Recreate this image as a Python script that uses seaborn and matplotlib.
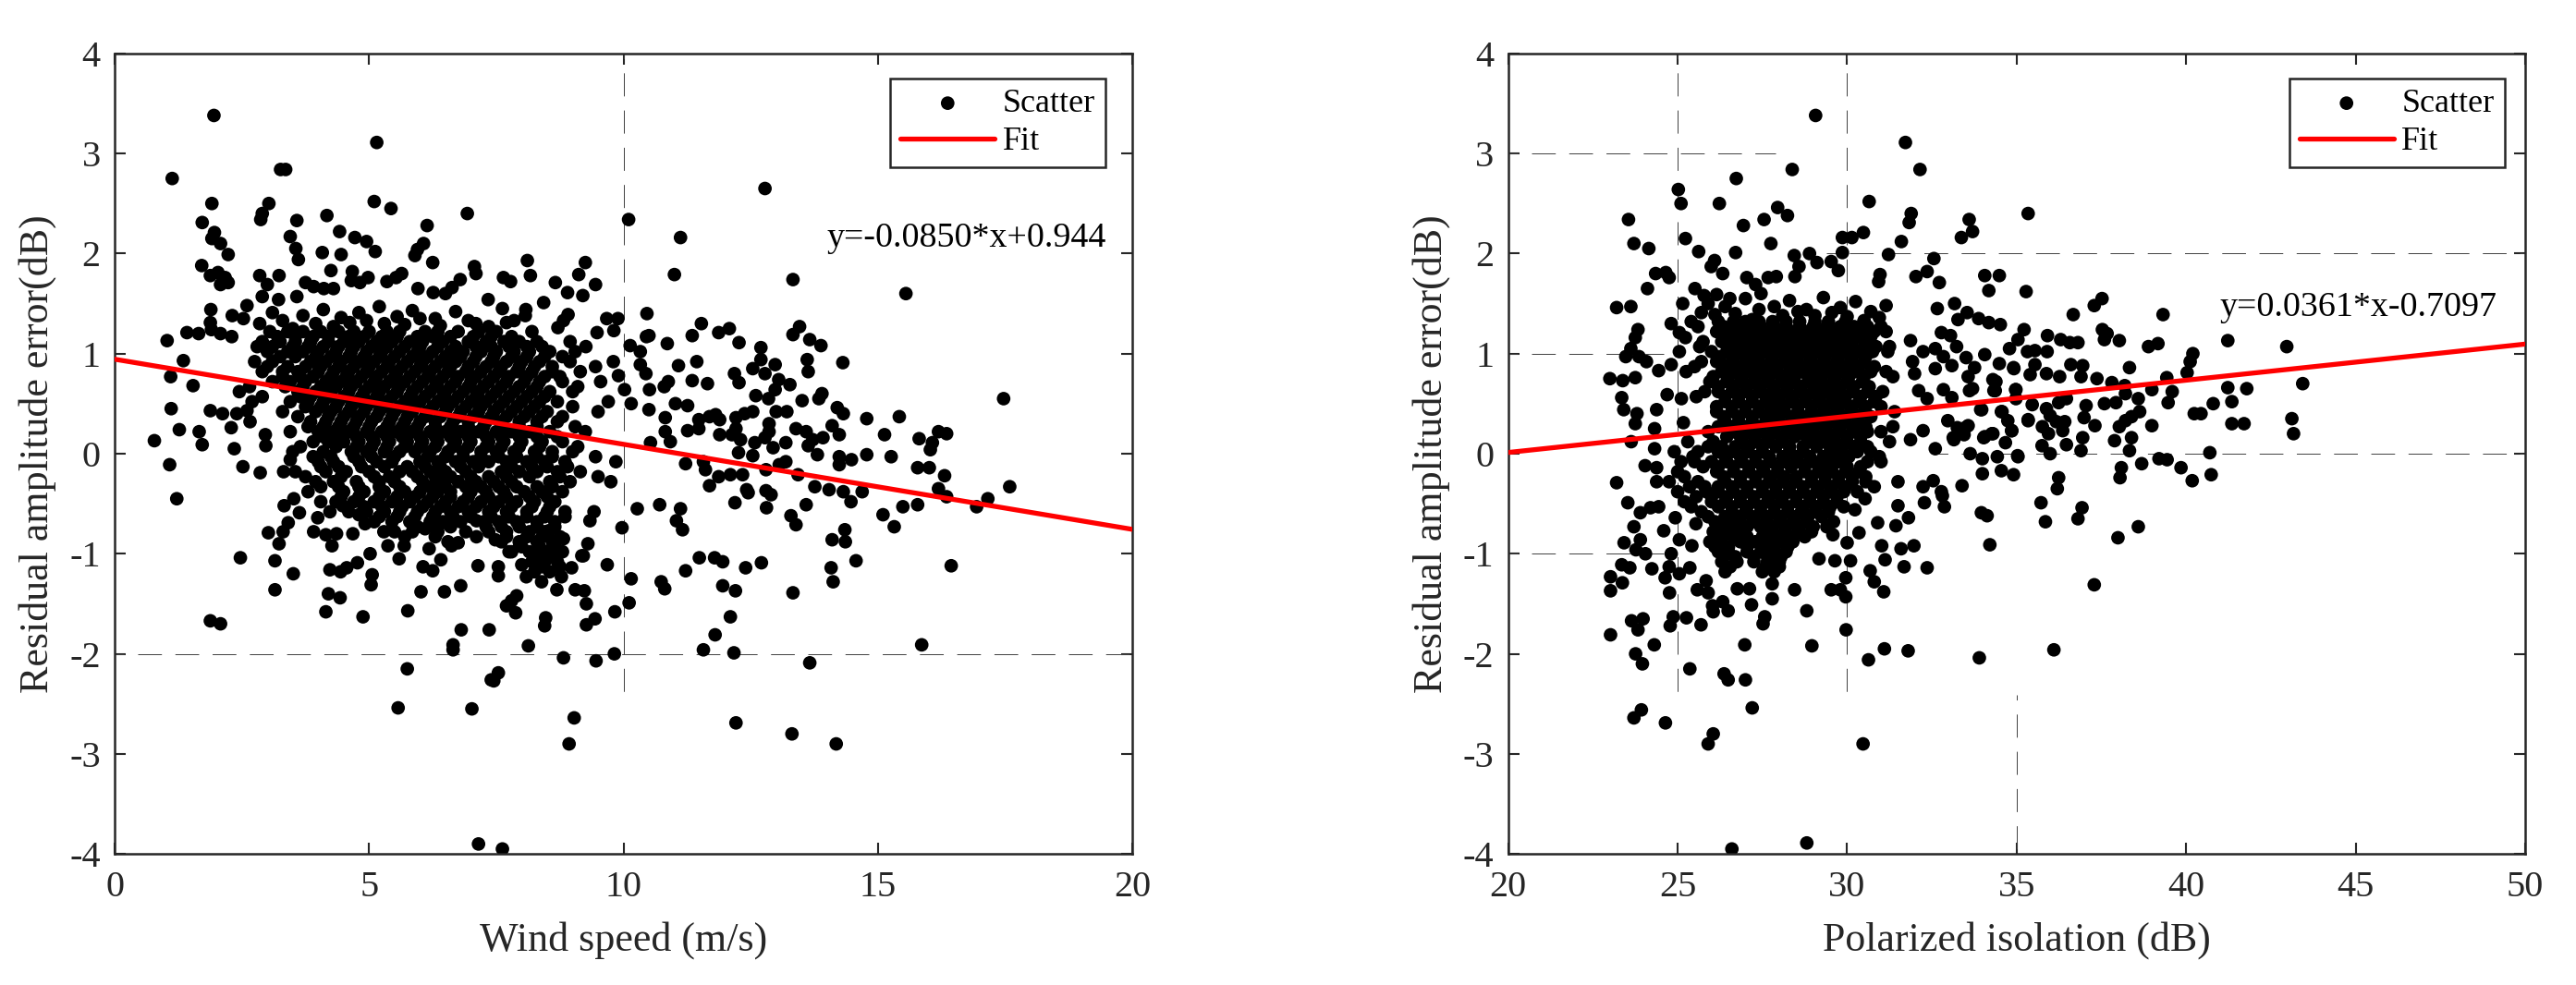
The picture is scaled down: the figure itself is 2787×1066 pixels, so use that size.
import matplotlib
matplotlib.use("Agg")
import matplotlib.pyplot as plt
import seaborn as sns

# ---- wind-speed panel: individually readable points (wind speed, residual)
wind_upper = [(1.95,3.38),(5.15,3.11),(1.13,2.75),(3.26,2.84),(3.36,2.84),(1.91,2.50),(3.03,2.50),(1.72,2.31),(2.90,2.40),(2.87,2.34),(3.58,2.33),(4.17,2.38),(5.10,2.52),(5.43,2.45),(6.93,2.40),(6.14,2.28),(10.1,2.34),(4.42,2.22),(4.72,2.16),(4.95,2.12),(5.12,2.02),(1.96,2.21),(1.91,2.15),(2.08,2.10),(2.23,1.99),(3.45,2.17),(3.56,2.05),(3.61,1.94),(4.08,2.01),(4.45,1.99),(6.07,2.10),(5.95,2.04),(5.9,1.98),(6.25,1.91),(1.71,1.88),(1.88,1.78),(2.03,1.81),(2.08,1.69),(2.23,1.71),(2.17,1.76),(2.85,1.78),(3.23,1.78),(3.0,1.69),(4.25,1.83),(4.67,1.82),(4.65,1.73),(4.98,1.76),(4.82,1.71),(5.35,1.72),(5.64,1.80),(5.53,1.76),(7.07,1.87),(7.10,1.80),(8.11,1.93),(8.17,1.78),(7.64,1.76),(7.78,1.72),(9.25,1.91),(9.12,1.79),(9.45,1.69),(8.66,1.71),(8.9,1.61),(9.2,1.58),(6.79,1.74),(6.63,1.66),(6.5,1.60),(5.96,1.65),(6.26,1.61),(3.75,1.71),(3.91,1.67),(4.11,1.65),(4.3,1.65),(2.9,1.57),(3.22,1.54),(3.58,1.57),(2.6,1.48),(1.89,1.44),(2.31,1.38),(2.53,1.35),(7.34,1.54),(7.62,1.45),(8.08,1.44),(8.07,1.38),(7.85,1.33),(8.43,1.51),(8.91,1.39),(8.71,1.26),(8.82,1.33),(9.67,1.35),(9.89,1.35),(9.81,1.23),(9.48,1.21),(9.26,1.07),(10.13,1.08),(10.33,1.02),(10.46,1.40),(10.45,1.17)]
wind_top = [(3.1,1.41),(3.7,1.38),(4.1,1.44),(4.45,1.36),(4.8,1.41),(5.2,1.47),(5.55,1.37),(5.85,1.43),(6.3,1.35),(6.7,1.42),(7.1,1.30),(3.3,1.33),(3.95,1.30),(4.3,1.27),(4.62,1.31),(4.95,1.33),(5.3,1.30),(5.7,1.29),(6.0,1.35),(6.4,1.28),(6.95,1.33),(7.35,1.27),(7.7,1.31),(2.85,1.30),(3.5,1.25)]
wind_left = [(1.03,1.13),(1.42,1.21),(1.65,1.20),(1.88,1.31),(1.9,1.24),(2.08,1.20),(2.3,1.17),(1.35,.93),(1.1,.77),(1.54,.68),(1.11,.45),(1.88,.43),(2.12,.40),(2.6,.43),(2.4,.40),(2.66,.32),(1.27,.24),(1.66,.22),(1.72,.09),(2.29,.26),(2.35,.05),(2.96,.19),(2.97,.08),(.78,.13),(1.08,-.11),(2.52,-.13),(2.86,-.19),(3.32,-.18),(3.45,-.06)]
wind_right = [(12.78,2.65),(11.12,2.16),(11.0,1.79),(13.33,1.74),(15.55,1.60),(10.5,1.18),(10.86,1.10),(11.35,1.18),(11.53,1.30),(11.87,1.21),(12.08,1.25),(12.27,1.11),(12.7,1.06),(12.7,.94),(12.54,.85),(12.78,.80),(12.98,.89),(13.33,1.19),(13.46,1.27),(13.66,1.14),(13.88,1.08),(13.61,.94),(13.63,.82),(14.31,.91),(17.47,.55),(17.59,-.33),(11.44,.92),(11.08,.88),(10.33,.89),(10.44,.80),(10.51,.64),(10.88,.72),(10.8,.67),(11.35,.73),(11.65,.70),(12.18,.80),(12.27,.71),(10.02,.64),(10.15,.50),(9.9,.78),(10.5,.44),(11.02,.50),(11.26,.48),(13.05,.74),(13.27,.69),(12.98,.64),(12.6,.58),(12.85,.55),(13.51,.53),(13.9,.60),(13.84,.55),(14.2,.46),(14.32,.40),(14.78,.35),(15.42,.37),(15.13,.19),(15.81,.15),(16.19,.22),(16.35,.20),(16.07,.11),(16.03,.04),(15.78,-.14),(16.01,-.14),(16.31,-.22),(14.78,-.01),(15.26,-.03),(14.48,-.06),(14.24,-.03),(14.24,-.11),(13.81,-.01),(13.63,.08),(14.24,.19),(14.1,.28),(13.92,.16),(13.72,.14),(13.39,.25),(13.59,.22),(13.0,.42),(13.21,.42),(12.86,.30),(12.86,.22),(12.54,.42),(12.38,.40),(12.21,.36),(12.21,.25),(12.13,.19),(11.89,.19),(12.3,.14),(12.26,.01),(12.54,-.02),(11.81,.39),(11.69,.37),(11.48,.34),(11.48,.25),(11.26,.23),(11.89,.34),(10.82,.36),(10.82,.22),(10.92,.12),(10.53,.11),(12.58,.11),(12.78,.16),(12.94,.06),(13.19,.11),(13.19,-.08),(13.06,-.11),(11.22,-.10),(11.57,-.08),(11.61,-.16),(11.87,-.23),(12.1,-.21),(12.34,-.21),(12.8,-.16),(13.43,-.21),(11.69,-.32),(12.42,-.36),(12.8,-.37),(13.76,-.33),(14.04,-.36),(14.32,-.38),(14.69,-.38),(16.19,-.35),(10.27,-.55),(10.71,-.51),(11.12,-.55),(11.04,-.67),(11.16,-.76),(9.97,-.74),(12.19,-.49),(12.81,-.54),(13.29,-.62),(13.39,-.71),(13.59,-.51),(12.45,-.39),(12.9,-.41),(14.47,-.48),(14.35,-.76),(14.1,-.86),(14.36,-.88),(15.1,-.61),(15.49,-.53),(15.78,-.51),(15.32,-.73),(16.94,-.53),(17.16,-.45),(16.35,-.43),(9.68,-1.11),(10.15,-1.25),(10.11,-1.49),(9.83,-1.58),(9.44,-1.65),(9.27,-1.71),(9.27,-1.50),(9.05,-1.36),(9.23,-1.37),(9.3,-.90),(9.21,-1.02),(11.22,-1.17),(11.49,-1.04),(11.79,-1.04),(11.95,-1.08),(12.4,-1.14),(12.71,-1.09),(14.08,-1.14),(14.57,-1.07),(16.44,-1.12),(14.12,-1.28),(10.74,-1.28),(10.81,-1.35),(11.95,-1.32),(12.2,-1.37),(13.33,-1.39),(12.1,-1.63),(11.8,-1.81),(11.57,-1.96),(12.17,-1.99),(15.86,-1.91),(13.66,-2.09),(9.82,-2.0),(9.46,-2.07),(8.82,-2.04),(12.21,-2.69),(13.31,-2.8),(14.18,-2.9),(9.03,-2.64),(8.93,-2.9)]
wind_lower = [(1.22,-.45),(2.47,-1.04),(3.15,-1.07),(3.02,-.79),(3.23,-.90),(3.31,-.78),(3.41,-.69),(3.33,-.52),(3.63,-.59),(3.52,-.45),(3.51,-1.20),(3.15,-1.36),(1.88,-1.67),(2.08,-1.70),(4.15,-1.58),(4.2,-1.40),(4.43,-1.44),(4.23,-1.16),(4.44,-1.18),(4.56,-1.14),(4.77,-1.09),(5.02,-1.0),(4.88,-1.63),(5.06,-1.21),(5.04,-1.31),(5.37,-.92),(5.59,-1.05),(5.69,-.92),(6.02,-1.38),(5.76,-1.57),(6.48,-1.38),(6.8,-1.32),(6.06,-1.13),(6.25,-1.17),(6.41,-1.06),(6.18,-.95),(7.14,-1.12),(7.54,-1.13),(7.54,-1.22),(6.81,-1.76),(7.36,-1.76),(6.65,-1.91),(6.65,-1.96),(8.13,-1.92),(7.7,-1.52),(7.9,-1.42),(7.88,-1.59),(7.8,-1.47),(8.47,-1.64),(8.45,-1.72),(5.75,-2.15),(7.54,-2.19),(7.4,-2.26),(7.45,-2.27),(5.57,-2.54),(7.02,-2.55),(7.15,-3.90),(7.62,-3.95),(3.99,-.64),(4.23,-.58),(4.48,-.52),(3.91,-.78),(4.15,-.81),(4.36,-.80),(4.27,-.92),(4.68,-.80),(4.8,-.61),(4.92,-.70),(5.29,-.78),(6.55,-.70),(6.62,-.92),(6.75,-.89),(7.11,-.83),(7.11,-.67),(6.1,-.75),(7.48,-.86),(7.8,-.98),(7.96,-.92),(8.53,-.77),(8.82,-.85),(9.18,-1.02),(8.98,-1.14),(8.78,-1.23),(8.39,-1.28),(8.09,-1.23),(8.0,-1.11),(8.69,-1.36),(9.34,-.67),(9.42,-.58)]

# dense core, where marks overlap: visual estimate, row by row
wind_core_y = [1.22,1.12,1.02,.92,.82,.72,.62,.52,.42,.32,.22,.12,.02,-.08,-.18,-.28,-.38,-.48,-.58,-.68,-.78,-.88,-.98,-1.08,-1.18]
wind_core_x = [
[3.05,3.4,3.7,4.05,4.4,4.7,5.0,5.35,5.6,6.1,6.35,6.75,7.15,7.5,8.2],
[2.9,3.25,3.55,3.85,4.2,4.5,4.8,5.15,5.45,5.8,6.05,6.45,6.95,7.3,7.65,7.95,8.3,8.95],
[3.0,3.4,3.7,4.0,4.35,4.65,4.95,5.25,5.6,5.95,6.25,6.6,6.85,7.2,7.5,7.85,8.15,8.55,9.05],
[2.75,3.1,3.85,4.15,4.45,4.8,5.1,5.4,5.75,6.05,6.4,6.7,7.05,7.4,7.7,8.0,8.35,8.95,9.8],
[2.9,3.3,3.6,4.0,4.3,4.6,4.95,5.25,5.55,5.9,6.2,6.55,6.9,7.2,7.55,7.9,8.2,8.6,9.15],
[3.1,3.45,3.75,4.15,4.45,4.75,5.1,5.4,5.7,6.05,6.35,6.7,7.0,7.35,7.7,8.05,8.35,8.8,9.55],
[2.45,3.6,3.95,4.25,4.6,4.9,5.2,5.55,5.85,6.2,6.5,6.85,7.15,7.5,7.85,8.2,8.55,9.0],
[2.7,3.45,3.8,4.1,4.4,4.75,5.05,5.35,5.7,6.0,6.35,6.65,7.0,7.3,7.65,8.0,8.35,8.7,9.7],
[3.3,3.95,4.25,4.6,4.9,5.2,5.5,5.85,6.15,6.5,6.8,7.15,7.45,7.8,8.15,8.5,9.5],
[3.85,4.15,4.45,4.75,5.05,5.4,5.7,6.0,6.3,6.65,6.95,7.3,7.6,7.95,8.3,8.7],
[3.45,4.0,4.3,4.6,4.95,5.25,5.55,5.85,6.2,6.5,6.8,7.15,7.5,7.8,8.15,8.55,9.25],
[3.9,4.2,4.5,4.8,5.1,5.4,5.75,6.05,6.35,6.7,7.0,7.35,7.65,8.0,8.4,8.8],
[3.5,4.1,4.65,4.95,5.3,5.6,5.9,6.2,6.55,6.85,7.2,7.5,7.85,8.25,8.6,9.0],
[4.0,4.3,4.8,5.15,5.45,6.0,6.35,6.7,7.05,7.35,7.7,8.1,8.45,8.85,9.85],
[3.55,4.15,4.55,5.0,5.6,5.85,6.2,6.5,6.9,7.6,7.95,8.3,8.7,9.15],
[3.95,4.3,4.75,5.2,5.5,6.05,6.4,6.75,7.1,7.45,7.8,8.55,8.95,9.75],
[3.8,4.5,4.9,5.3,5.7,6.0,6.35,6.6,7.0,7.3,7.65,8.05,8.4,8.8],
[4.05,4.35,4.7,5.1,5.45,5.8,6.15,6.5,6.85,7.2,7.55,7.9,8.25,8.65],
[4.6,4.95,5.3,5.6,5.95,6.3,6.6,6.95,7.35,7.7,8.1,8.5,8.85],
[5.1,5.45,5.8,6.2,6.45,6.8,7.25,7.55,7.9,8.3,8.65],
[5.5,5.85,6.35,6.9,7.35,7.7,8.15,8.45],
[6.55,7.6,7.95,8.3,8.6],
[7.75,8.15,8.5,8.8],
[8.2,8.45,8.7],
[8.25,8.55]]
wind_fill_y = [1.17,1.07,.97,.87,.77,.67,.57,.47,.37,.27,.17,.07,-.03,-.13,-.23,-.33,-.43,-.53,-.63,-.73,-.83,-.93,-1.03,-1.13]
wind_fill_x = [
[3.2,3.55,3.9,4.2,4.6,4.9,5.25,5.55,5.95,6.25,6.6,7.05,7.4,7.8],
[2.8,3.1,3.5,3.8,4.1,4.4,4.7,5.05,5.35,5.7,6.0,6.35,6.7,7.1,7.4,7.75,8.1,8.4],
[3.25,3.55,3.95,4.25,4.6,4.9,5.2,5.5,5.85,6.15,6.5,6.8,7.1,7.45,7.8,8.1,8.45,8.8],
[3.0,3.4,3.75,4.05,4.4,4.7,5.0,5.35,5.65,6.0,6.3,6.6,6.95,7.3,7.6,7.95,8.25,8.6,9.45],
[3.3,3.65,3.9,4.25,4.55,4.85,5.15,5.5,5.8,6.15,6.45,6.75,7.1,7.45,7.75,8.1,8.45,8.75],
[2.65,3.35,3.7,4.05,4.35,4.65,5.0,5.3,5.6,5.95,6.3,6.6,6.95,7.25,7.6,7.95,8.3,9.1],
[2.9,3.65,3.85,4.2,4.5,4.85,5.15,5.45,5.8,6.1,6.45,6.75,7.1,7.4,7.75,8.1,8.45],
[3.75,4.05,4.35,4.65,4.95,5.3,5.6,5.9,6.25,6.55,6.9,7.2,7.55,7.9,8.25,9.0],
[3.6,4.2,4.5,4.8,5.15,5.45,5.75,6.1,6.4,6.75,7.05,7.4,7.7,8.05,8.4,8.8],
[3.8,4.1,4.4,4.7,5.0,5.35,5.65,5.95,6.3,6.6,6.95,7.25,7.6,7.95,8.3,9.05],
[4.1,4.4,4.75,5.05,5.35,5.65,6.0,6.3,6.6,6.95,7.3,7.6,7.95,8.3,8.7],
[3.65,4.35,4.75,5.05,5.35,5.7,6.0,6.3,6.65,6.95,7.3,7.6,7.95,8.35,9.1],
[3.9,4.25,4.7,5.05,5.5,6.15,6.5,6.85,7.2,7.55,7.9,8.3,8.6,9.45],
[4.05,4.4,4.85,5.3,5.75,6.1,6.4,6.8,7.15,7.8,8.2,8.5,8.9],
[3.75,4.45,5.1,5.4,5.95,6.3,6.6,7.0,7.35,7.7,8.15,8.75,9.5],
[4.05,4.4,4.8,5.2,5.6,6.2,6.5,6.9,7.2,7.55,7.9,8.3,8.6],
[4.45,4.8,5.2,5.55,5.9,6.25,6.6,6.95,7.35,7.7,8.15,8.5],
[4.9,5.25,5.65,6.05,6.4,6.75,7.1,7.45,7.8,8.2,8.55],
[5.2,5.55,5.9,6.25,6.65,7.0,7.4,7.75,8.1,8.45,8.85],
[5.95,6.3,6.6,7.3,7.6,7.95,8.3,8.65],
[5.7,6.3,7.7,8.1,8.4,8.75],
[8.0,8.35,8.65],
[8.3,8.6],
[8.4,8.75]]

# ---- isolation panel: individually readable points (isolation, residual)
iso_upper = [(29.07,3.38),(31.72,3.11),(32.15,2.84),(28.38,2.84),(26.73,2.75),(25.02,2.64),(25.1,2.50),(26.23,2.50),(30.65,2.52),(23.55,2.34),(35.34,2.40),(33.6,2.34),(33.7,2.22),(33.37,2.16),(31.89,2.40),(31.83,2.31),(27.55,2.34),(27.95,2.46),(28.24,2.38),(26.94,2.28),(27.75,2.10),(25.23,2.15),(23.71,2.10),(24.15,2.05),(25.62,2.02),(26.71,2.01),(26.09,1.93),(25.99,1.87),(26.33,1.80),(30.48,2.21),(30.14,2.16),(29.86,2.16),(29.86,2.01),(31.6,2.12),(31.22,1.99),(28.44,1.98),(28.89,2.0),(29.11,1.91),(29.53,1.92),(29.74,1.83),(28.58,1.87),(32.56,1.95),(32.36,1.82),(32.03,1.77),(32.72,1.71),(30.97,1.79),(30.93,1.72),(34.06,1.78),(34.49,1.78),(34.18,1.63),(35.28,1.62),(24.35,1.80),(24.65,1.81),(24.75,1.76),(24.11,1.65),(23.2,1.46),(23.62,1.47),(27.04,1.76),(27.3,1.69),(27.46,1.60),(27.67,1.76),(27.91,1.77),(28.46,1.77),(25.51,1.65),(25.15,1.50),(26.15,1.59),(26.54,1.55),(25.78,1.58)]
iso_top = [(25.9,1.50),(27.0,1.55),(27.85,1.47),(28.3,1.53),(28.8,1.44),(29.3,1.56),(29.8,1.46),(30.25,1.52),(30.7,1.42),(31.15,1.48),(25.7,1.41),(26.4,1.47),(27.4,1.44),(28.1,1.38),(28.55,1.42),(29.05,1.38),(29.55,1.41),(30.0,1.37),(30.5,1.33),(30.95,1.36),(26.1,1.39),(26.7,1.40),(27.2,1.34)]
iso_left = [(23.83,1.24),(23.75,1.16),(23.62,1.05),(23.47,.97),(23.86,.97),(24.08,.92),(24.81,1.30),(25.05,1.21),(25.23,1.16),(25.05,1.02),(24.81,.89),(24.44,.83),(23.0,.75),(23.38,.73),(23.75,.76),(23.35,.56),(23.41,.44),(23.8,.40),(23.75,.30),(23.63,.12),(24.38,.44),(24.69,.59),(25.11,.55),(25.17,.31),(24.32,.25),(23.2,-.29),(24.04,-.12),(24.38,-.14),(24.32,.05),(24.38,-.28)]
iso_mid = [(33.17,1.50),(32.66,1.45),(33.54,1.41),(33.88,1.35),(34.18,1.31),(34.52,1.29),(33.27,1.34),(35.22,1.24),(35.04,1.14),(34.79,1.05),(35.32,1.02),(32.78,1.21),(33.05,1.18),(33.23,1.07),(32.6,1.05),(32.84,.97),(33.51,.96),(34.06,.99),(34.49,.90),(34.91,.86),(32.24,1.02),(31.87,1.13),(31.93,.92),(31.99,.80),(32.6,.85),(33.09,.88),(33.76,.86),(33.57,.77),(34.3,.74),(34.37,.63),(34.97,.64),(32.11,.63),(32.36,.55),(32.84,.64),(33.09,.56),(33.7,.65),(33.94,.44),(34.55,.42),(35.34,.33),(32.97,.33),(33.15,.14),(33.57,.28),(33.45,.19),(34.06,.17),(34.3,.20),(34.85,.23),(34.67,.11),(31.87,.14),(32.24,.23),(32.6,.05),(33.63,0),(33.99,-.05),(34.43,-.03),(35.03,-.02),(33.99,-.2),(34.55,-.17),(34.91,-.21),(33.39,-.32),(32.54,-.27),(32.24,-.33),(32.78,-.38)]
iso_right = [(36.67,1.39),(37.52,1.55),(37.29,1.48),(39.32,1.39),(37.53,1.24),(37.67,1.20),(37.59,1.14),(38.03,1.13),(41.23,1.13),(42.97,1.07),(35.91,1.18),(36.3,1.14),(36.57,1.11),(36.81,1.11),(38.89,1.07),(39.17,1.10),(40.2,1.0),(40.12,.92),(40.03,.81),(35.54,1.03),(35.9,1.02),(36.6,.89),(36.95,.88),(36.9,.77),(37.37,.75),(36.27,.77),(35.88,.80),(35.54,.89),(35.4,.79),(34.92,.85),(38.33,.86),(39.43,.76),(39.59,.62),(39.47,.51),(38.99,.64),(38.19,.68),(37.81,.71),(38.21,.60),(38.59,.55),(37.59,.50),(37.93,.51),(41.23,.66),(41.79,.65),(41.35,.52),(40.8,.50),(40.24,.40),(40.44,.40),(41.35,.30),(41.71,.30),(43.44,.70),(43.12,.35),(43.17,.20),(38.63,.42),(38.39,.37),(38.21,.33),(38.03,.27),(38.99,.28),(37.31,.28),(36.99,.36),(37.05,.48),(37.89,.13),(38.39,.16),(38.33,.03),(36.9,.03),(36.47,.09),(36.95,.16),(35.75,.08),(35.99,0),(35.04,-.03),(38.69,-.10),(39.2,-.05),(39.44,-.06),(40.7,.01),(39.85,-.14),(40.74,-.21),(40.18,-.27),(38.09,-.14),(38.05,-.24),(36.24,-.24),(36.2,-.35),(34.03,.16),(34.27,.20),(34.86,.23),(35.34,.34),(35.76,.27),(35.94,.20),(36.36,.23),(36.42,.32),(33.97,.44),(34.57,.42),(34.74,.33),(35.46,.49),(35.88,.45),(36.24,.51),(36.47,.55),(34.98,.64),(34.33,.63),(34.39,.72),(33.61,.63),(33.25,.26),(33.49,.26),(33.13,.16),(34.98,.55),(35.99,.38),(36.17,.32)]
iso_lower = [(26.6,-3.95),(28.81,-3.89),(30.47,-2.90),(25.9,-2.90),(26.05,-2.80),(24.64,-2.69),(23.71,-2.64),(23.93,-2.56),(27.2,-2.54),(27.0,-2.26),(26.37,-2.20),(26.49,-2.26),(25.36,-2.15),(23.96,-2.10),(23.76,-2.0),(24.31,-1.91),(26.98,-1.91),(28.96,-1.92),(30.63,-2.06),(31.1,-1.95),(31.8,-1.97),(33.9,-2.04),(36.1,-1.96),(23.02,-1.81),(23.64,-1.67),(23.98,-1.65),(23.83,-1.76),(24.78,-1.72),(24.87,-1.63),(25.26,-1.64),(25.69,-1.71),(27.18,-1.51),(27.57,-1.63),(27.52,-1.70),(27.79,-1.45),(28.81,-1.57),(29.97,-1.76),(28.45,-1.36),(29.96,-1.43),(29.8,-1.36),(29.53,-1.36),(29.96,-1.24),(31.08,-1.38),(30.8,-1.28),(30.68,-1.17),(31.12,-1.06),(31.68,-1.13),(32.36,-1.14),(31.59,-.95),(31.97,-.92),(31.02,-.92),(30.35,-.79),(30.0,-.89),(30.1,-1.07),(29.64,-1.07),(29.17,-1.05),(29.58,-.81),(32.28,-.49),(32.87,-.53),(32.81,-.42),(33.96,-.59),(34.13,-.62),(34.21,-.91),(31.81,-.64),(31.44,-.72),(30.9,-.69),(31.5,-.52),(30.53,-.45),(30.23,-.56),(23.02,-1.23),(23.37,-1.29),(23.02,-1.37),(23.35,-1.11),(23.59,-1.14),(24.24,-1.15),(24.05,-1.0),(23.77,-.96),(23.9,-.86),(23.42,-.89),(23.71,-.73),(23.53,-.49),(23.9,-.59),(24.59,-.77),(25.05,-.86),(25.42,-.92),(24.81,-1.0),(24.75,-1.13),(25.36,-1.14),(25.05,-1.2),(24.63,-1.24),(24.76,-1.39),(25.58,-1.36),(25.84,-1.27),(25.9,-1.39),(26.03,-1.52),(26.05,-1.58),(26.33,-1.48),(26.49,-1.57),(26.76,-1.35),(27.12,-1.35),(27.79,-1.30),(24.44,-.53),(24.2,-.54),(24.93,-.64),(25.54,-.70),(35.72,-.49),(35.85,-.68),(36.93,-.54),(36.81,-.65),(37.29,-1.31),(37.99,-.84),(38.59,-.73)]

# dense core, where marks overlap: visual estimate, row by row
iso_core_y = [1.32,1.22,1.12,1.02,.92,.82,.72,.62,.52,.42,.32,.22,.12,.02,-.08,-.18,-.28,-.38,-.48,-.58,-.68,-.78,-.88,-.98,-1.08,-1.18]
iso_core_x = [
[25.4,26.2,26.65,27.0,27.4,27.8,28.2,28.6,29.05,29.45,29.95,30.5],
[26.15,26.55,26.9,27.25,27.6,28.0,28.4,28.8,29.2,29.6,30.05,30.4,30.8,31.15],
[25.75,26.3,26.7,27.05,27.45,27.8,28.2,28.55,28.95,29.35,29.75,30.15,30.6],
[26.0,26.45,26.85,27.2,27.6,27.95,28.35,28.75,29.15,29.5,29.9,30.3,30.75,31.2],
[25.7,26.15,26.6,27.0,27.35,27.75,28.15,28.5,28.9,29.3,29.7,30.1,30.5],
[25.25,26.3,26.7,27.1,27.5,27.9,28.3,28.65,29.05,29.45,29.85,30.25,30.7,31.15],
[25.95,26.45,26.85,27.25,27.65,28.05,28.45,28.85,29.2,29.6,30.0,30.45],
[25.8,26.2,26.6,27.0,27.4,27.8,28.2,28.6,29.0,29.4,29.75,30.15,30.6,31.05],
[26.4,26.8,27.2,27.6,27.95,28.35,28.75,29.15,29.55,29.95,30.35,30.8],
[26.15,26.6,27.0,27.4,27.75,28.15,28.55,28.95,29.3,29.7,30.1,30.5,31.4],
[26.4,26.8,27.2,27.6,28.0,28.4,28.75,29.15,29.55,29.95,30.35],
[25.9,26.65,27.05,27.45,27.85,28.25,28.6,29.0,29.4,29.8,30.2,30.6,31.0],
[25.3,26.05,26.9,27.3,27.7,28.1,28.9,29.3,29.65,30.0,30.4,31.25],
[24.9,25.6,26.2,26.6,27.05,27.5,28.3,28.7,29.5,29.85,30.3,30.7],
[25.1,25.5,26.0,26.45,26.9,27.3,27.75,28.15,28.55,29.0,29.35,29.75,30.6,31.0],
[25.0,26.15,26.65,27.1,27.55,27.95,28.75,29.15,29.55,29.95,30.35],
[24.75,25.6,26.4,26.85,27.3,27.7,28.1,28.5,28.95,29.35,29.75,30.15,30.55,31.5],
[25.0,25.85,26.2,26.65,27.05,27.5,27.9,28.3,28.7,29.1,29.5,29.9,30.3],
[25.2,26.0,26.4,26.85,27.25,27.65,28.05,28.5,28.9,29.3,29.7],
[25.7,26.6,27.0,27.45,27.85,28.25,28.65,29.05,29.45],
[26.1,26.5,26.85,27.25,27.6,28.0,28.4,28.8,29.6],
[26.05,26.45,26.9,27.7,28.15,28.55,28.95],
[25.95,26.3,26.85,27.3,27.65,28.05,28.4],
[26.2,26.5,27.05,27.45,27.85,28.2],
[26.3,26.75,27.25,27.65,28.0],
[26.4,27.5,27.85]]
iso_fill_y = [1.27,1.17,1.07,.97,.87,.77,.67,.57,.47,.37,.27,.17,.07,-.03,-.13,-.23,-.33,-.43,-.53,-.63,-.73,-.83,-.93,-1.03,-1.13]
iso_fill_x = [
[25.6,26.35,26.75,27.1,27.45,27.85,28.2,28.6,29.0,29.4,29.8,30.2,30.6,31.0],
[26.4,26.8,27.15,27.5,27.9,28.3,28.65,29.05,29.45,29.9,30.3,30.7],
[25.65,26.55,26.95,27.3,27.7,28.05,28.45,28.85,29.25,29.6,30.05,30.5,30.85,31.25],
[26.25,26.65,27.05,27.4,27.8,28.2,28.55,28.95,29.35,29.75,30.15,30.55],
[25.5,26.4,26.8,27.2,27.6,27.95,28.35,28.75,29.15,29.55,29.95,30.35,30.8],
[26.05,26.5,26.9,27.3,27.7,28.1,28.45,28.85,29.25,29.65,30.05,30.5,31.35],
[26.2,26.65,27.05,27.45,27.85,28.25,28.65,29.05,29.4,29.8,30.2,30.65],
[25.55,26.4,26.8,27.2,27.6,28.0,28.4,28.8,29.2,29.6,29.95,30.4,30.85],
[26.15,26.6,27.0,27.4,27.8,28.15,28.55,28.95,29.35,29.75,30.15,30.55,31.0],
[26.35,26.8,27.2,27.6,27.95,28.35,28.75,29.15,29.5,29.9,30.3,30.7],
[26.2,26.6,27.0,27.4,27.8,28.2,28.6,28.95,29.35,29.75,30.15,30.55,31.35],
[26.45,26.85,27.25,27.65,28.05,28.45,28.8,29.2,29.6,30.0,30.4],
[25.9,26.3,26.7,27.1,27.5,27.9,28.3,28.7,29.1,29.5,29.85,30.2,30.6],
[25.45,26.4,26.85,27.3,27.7,28.1,28.5,28.9,29.3,29.65,30.05,30.95],
[25.75,26.2,26.65,27.1,27.5,27.95,28.35,28.75,29.2,29.55,30.0,30.4],
[25.2,26.35,26.85,27.3,27.75,28.15,28.5,28.95,29.35,29.75,30.15,30.55],
[25.35,25.8,26.2,26.6,27.05,27.5,27.9,28.3,28.7,29.15,29.55,29.95,30.8],
[25.55,26.0,26.45,26.85,27.25,27.7,28.1,28.5,28.9,29.3,29.7],
[25.4,26.2,26.6,27.05,27.45,27.85,28.25,28.7,29.1,29.5,29.9],
[25.9,26.4,26.8,27.2,27.65,28.05,28.45,28.85,29.25],
[26.3,26.7,27.05,27.45,27.8,28.2,28.6,29.0,29.4],
[26.25,26.65,27.05,27.5,27.9,28.35,28.75],
[26.1,26.5,27.05,27.5,27.85,28.25],
[26.35,26.7,27.25,27.65,28.05],
[26.55,27.6,28.0]]

# ---- fits, labels, dashed reference lines (value, start, stop)
wind_fit_x = [0, 20]
wind_fit_y = [0.944, -0.756]
iso_fit_x = [20, 50]
iso_fit_y = [0.0123, 1.0953]
y_ticks = [-4, -3, -2, -1, 0, 1, 2, 3, 4]
y_tick_labels = ["-4", "-3", "-2", "-1", "0", "1", "2", "3", "4"]
wind_ticks = [0, 5, 10, 15, 20]
iso_ticks = [20, 25, 30, 35, 40, 45, 50]
wind_hlines = [(-2, 0, 20)]
wind_vlines = [(10, -2.41, 4)]
iso_hlines = [(3, 20, 27.9), (2, 29.4, 50), (1, 20, 24.6), (0, 32.7, 50), (-1, 20, 24.6)]
iso_vlines = [(25, -2.41, 4), (30, -2.41, 4), (35, -4, -2.41)]

sns.set_theme(style="ticks")
plt.rcParams["font.family"] = ["Liberation Serif", "DejaVu Serif"]
plt.rcParams["lines.scale_dashes"] = False
INK = "#262626"

W, H = 2787, 1066
fig = plt.figure(figsize=(W / 100, H / 100), dpi=100, facecolor="white")
ax1 = fig.add_axes([124.1 / W, 1 - 924.2 / H, 1101 / W, 866.4 / H])
ax2 = fig.add_axes([1631.7 / W, 1 - 924.2 / H, 1100.2 / W, 866.4 / H])


def unpack(groups, rows):
    xs, ys = [], []
    for g in groups:
        for a, b in g:
            xs.append(a)
            ys.append(b)
    for core_y, core_x in rows:
        for y, row in zip(core_y, core_x):
            for a in row:
                xs.append(a)
                ys.append(y)
    return xs, ys


def panel(ax, xs, ys, fx, fy, xticks, xlim, xlabel, hl, vl, eq, eq_xy, anchor):
    for val, a, b in hl:
        ax.plot([a, b], [val, val], color="#404040", lw=0.7,
                ls=(11, (18.5, 10.5)), zorder=1)
    for val, a, b in vl:
        ax.plot([val, val], [b, a], color="#404040", lw=0.7,
                ls=(14, (18, 11)), zorder=1)
    sns.scatterplot(x=xs, y=ys, s=112, color="black", edgecolor="none",
                    label="Scatter", ax=ax, zorder=2)
    sns.lineplot(x=fx, y=fy, color="red", lw=3.8, label="Fit", ax=ax, zorder=3)
    ax.set_xlim(*xlim)
    ax.set_ylim(-4, 4)
    ax.set_xticks(xticks)
    ax.set_xticklabels([str(t) for t in xticks])
    ax.set_yticks(y_ticks)
    ax.set_yticklabels(y_tick_labels)
    ax.tick_params(direction="in", top=True, right=True, length=8.5, width=1.5,
                   labelsize=29, color=INK, labelcolor=INK, pad=11)
    ax.tick_params(axis="x", pad=13)
    for s in ax.spines.values():
        s.set_visible(True)
        s.set_linewidth(1.8)
        s.set_color(INK)
    ax.set_xlabel(xlabel, fontsize=31.7, color=INK, labelpad=13)
    ax.set_ylabel("Residual amplitude error(dB)", fontsize=31.7, color=INK, labelpad=10)
    ax.text(eq_xy[0], eq_xy[1], eq, fontsize=27.4, color="black", zorder=4)
    leg = ax.legend(loc="upper right", bbox_to_anchor=anchor, borderaxespad=0,
                    fontsize=26, fancybox=False, framealpha=1, edgecolor=INK,
                    handlelength=2.83, handletextpad=0.24, labelspacing=0.22,
                    borderpad=0.3, scatterpoints=1)
    leg.get_frame().set_linewidth(1.8)
    for t in leg.get_texts():
        t.set_color("black")


wx, wy = unpack([wind_upper, wind_top, wind_left, wind_right, wind_lower],
                [(wind_core_y, wind_core_x), (wind_fill_y, wind_fill_x)])
ix, iy = unpack([iso_upper, iso_top, iso_left, iso_mid, iso_right, iso_lower],
                [(iso_core_y, iso_core_x), (iso_fill_y, iso_fill_x)])

panel(ax1, wx, wy, wind_fit_x, wind_fit_y, wind_ticks, (0, 20), "Wind speed (m/s)",
      wind_hlines, wind_vlines, "y=-0.0850*x+0.944", (14.0, 2.07), (0.9737, 0.9686))
panel(ax2, ix, iy, iso_fit_x, iso_fit_y, iso_ticks, (20, 50), "Polarized isolation (dB)",
      iso_hlines, iso_vlines, "y=0.0361*x-0.7097", (41.0, 1.38), (0.9797, 0.9686))

fig.savefig("out.png", dpi=100, facecolor="white")
